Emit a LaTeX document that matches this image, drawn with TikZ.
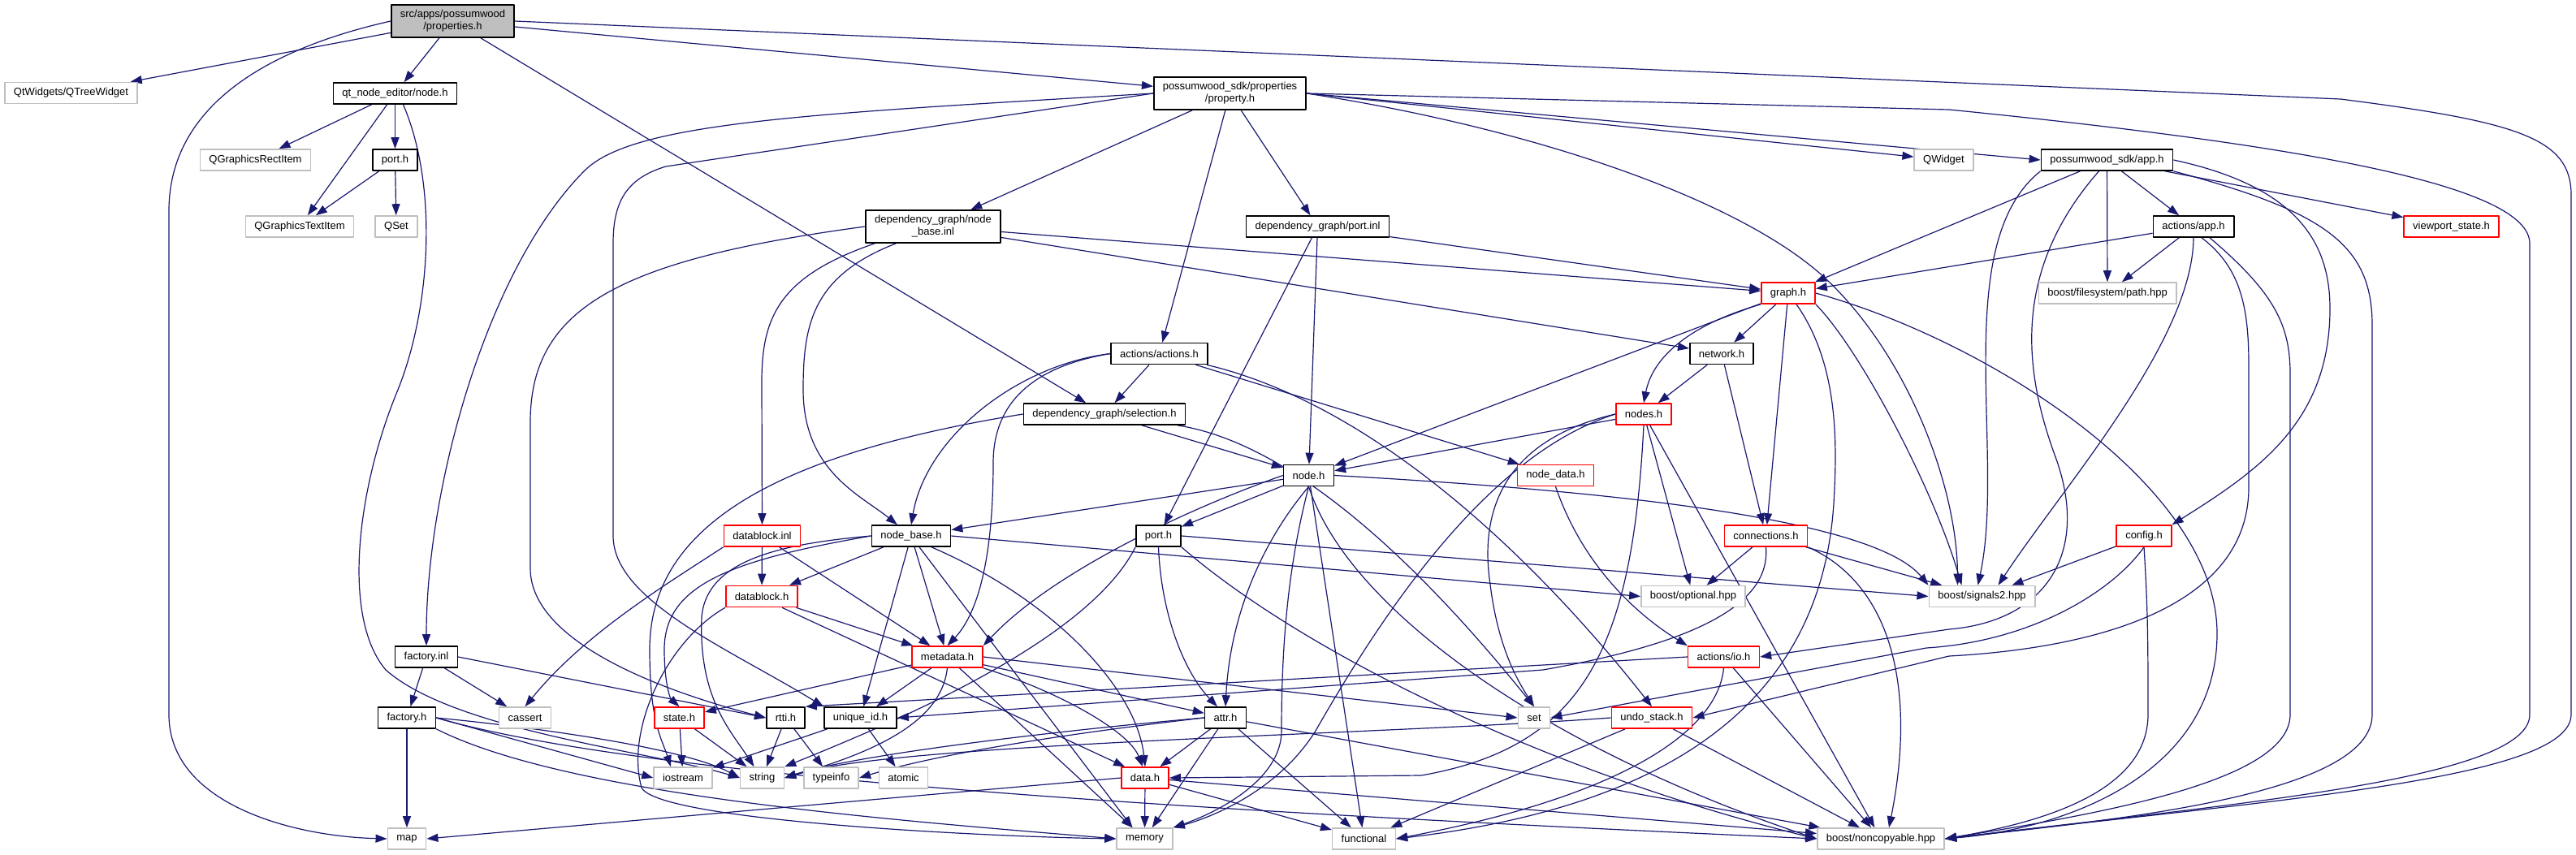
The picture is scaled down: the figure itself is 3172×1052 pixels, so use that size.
\documentclass[tikz,border=0pt]{standalone}
\usepackage{fontspec}
\setmainfont{Liberation Sans}
\usetikzlibrary{arrows.meta,backgrounds}
\definecolor{edgeblue}{HTML}{191970}
\definecolor{extgray}{HTML}{BFBFBF}
\begin{document}
\begin{tikzpicture}[x=1pt, y=-1pt, font=\fontsize{13}{15}\selectfont, line join=round, >={Triangle[length=14pt,width=10pt]},
	hdr/.style={draw=black, line width=1.6pt, fill=white, minimum height=26pt, inner xsep=11pt, inner ysep=2pt},
	sys/.style={hdr, draw=extgray},
	cut/.style={hdr, draw=red},
	twoline/.style={align=center, minimum height=40pt},
	root/.style={hdr, twoline, fill=extgray},
	dep/.style={->, draw=edgeblue, line width=1.2pt}]
	\useasboundingbox (0,0) rectangle (3172,1052);
	\node[root] (props) at (557.5,26) {src/apps/possumwood\\/properties.h};
	\node[sys] (qtree) at (87.5,114.5) {QtWidgets/QTreeWidget};
	\node[hdr] (qtnode) at (486.5,115) {qt\_node\_editor/node.h};
	\node[sys] (qrect) at (314.5,197) {QGraphicsRectItem};
	\node[hdr] (qtport) at (486.5,197) {port.h};
	\node[sys] (qtext) at (369,279) {QGraphicsTextItem};
	\node[sys] (qset) at (488,279) {QSet};
	\node[hdr, twoline] (property) at (1514.5,115) {possumwood\_sdk/properties\\/property.h};
	\node[hdr, twoline] (nbinl) at (1149,279) {dependency\_graph/node\\\_base.inl};
	\node[hdr] (portinl) at (1622.5,279) {dependency\_graph/port.inl};
	\node[hdr] (actions) at (1427.5,435.5) {actions/actions.h};
	\node[hdr] (selection) at (1360,510) {dependency\_graph/selection.h};
	\node[sys] (qwidget) at (2393.5,197) {QWidget};
	\node[cut] (graph) at (2202,361) {graph.h};
	\node[hdr] (network) at (2120,435.5) {network.h};
	\node[cut] (nodes) at (2024,510) {nodes.h};
	\node[hdr] (app) at (2594.5,197) {possumwood\_sdk/app.h};
	\node[hdr] (actapp) at (2701,279) {actions/app.h};
	\node[cut] (viewport) at (3018.5,279) {viewport\_state.h};
	\node[sys] (fspath) at (2595,361) {boost/filesystem/path.hpp};
	\node[hdr] (factinl) at (525,809) {factory.inl};
	\node[hdr] (facth) at (501,884) {factory.h};
	\node[sys] (cassert) at (646.5,884) {cassert};
	\node[sys] (map) at (501,1033) {map};
	\node[cut] (dbinl) at (938.5,660) {datablock.inl};
	\node[hdr] (nodebase) at (1122,660) {node\_base.h};
	\node[hdr] (port) at (1426.5,660) {port.h};
	\node[hdr] (dgnode) at (1611.5,585.5) {node.h};
	\node[cut] (dbh) at (938,734.5) {datablock.h};
	\node[cut] (metadata) at (1166.5,809) {metadata.h};
	\node[cut] (state) at (836.5,884) {state.h};
	\node[hdr] (rtti) at (967.5,884) {rtti.h};
	\node[hdr] (uid) at (1059.5,884) {unique\_id.h};
	\node[hdr] (attr) at (1509,884) {attr.h};
	\node[sys] (iostream) at (841,958) {iostream};
	\node[sys] (string) at (938.5,958) {string};
	\node[sys] (typeinfo) at (1023.5,958) {typeinfo};
	\node[sys] (atomic) at (1112.5,958) {atomic};
	\node[cut] (data) at (1410,958) {data.h};
	\node[sys] (memory) at (1409.5,1033) {memory};
	\node[cut] (nodedata) at (1915.5,585.5) {node\_data.h};
	\node[cut] (conn) at (2174.5,660) {connections.h};
	\node[sys] (optional) at (2085,734.5) {boost/optional.hpp};
	\node[cut] (io) at (2122.5,809) {actions/io.h};
	\node[sys] (set) at (1889,884) {set};
	\node[cut] (undo) at (2034,884) {undo\_stack.h};
	\node[sys] (functional) at (1679.5,1033) {functional};
	\node[sys] (noncopy) at (2316,1033) {boost/noncopyable.hpp};
	\node[sys] (signals) at (2440.5,734.5) {boost/signals2.hpp};
	\node[cut] (config) at (2640,660) {config.h};
	\begin{scope}[on background layer]
	\draw[dep] (props) -- (qtree);
	\draw[dep] (props) -- (qtnode);
	\draw[dep] (props) -- (property);
	\draw[dep] (props) -- (selection);
	\draw[dep] (props.west) .. controls (330,60) and (208,130) .. (208,260) -- (208,880) .. controls (208,990) and (360,1030) .. (map.west);
	\draw[dep] (props.east) -- (2882,122) .. controls (3100,150) and (3166,170) .. (3166,240) -- (3166,880) .. controls (3166,960) and (2800,985) .. (noncopy.east);
	\draw[dep] (qtnode) -- (qrect);
	\draw[dep] (qtnode) -- (qtext);
	\draw[dep] (qtnode) -- (qtport);
	\draw[dep] ([xshift=10pt]qtnode.south) .. controls (540,230) and (530,380) .. (490,480) .. controls (440,600) and (420,760) .. (475,825) .. controls (560,900) and (800,925) .. (string.west);
	\draw[dep] (qtport) -- (qtext);
	\draw[dep] (qtport) -- (qset);
	\draw[dep] (property) -- (nbinl);
	\draw[dep] (property) -- (actions);
	\draw[dep] (property) -- (portinl);
	\draw[dep] (property.east) -- (qwidget);
	\draw[dep] (property.east) -- (app.west);
	\draw[dep] (property.east) .. controls (1900,160) and (2150,250) .. (2250,345) .. controls (2350,440) and (2410,600) .. ([xshift=-30pt]signals.north);
	\draw[dep] (property.west) .. controls (1000,140) and (780,150) .. (720,210) .. controls (600,330) and (525,600) .. (factinl.north);
	\draw[dep] (property.west) -- (820,205) .. controls (770,220) and (755,250) .. (755,300) -- (755,660) .. controls (755,740) and (900,800) .. (uid.north west);
	\draw[dep] (property.east) -- (2400,135) .. controls (2850,180) and (3115,230) .. (3115,300) -- (3115,880) .. controls (3115,960) and (2750,990) .. (noncopy.east);
	\draw[dep] (nbinl) -- (graph);
	\draw[dep] (nbinl) -- (network);
	\draw[dep] (nbinl.west) .. controls (760,320) and (653,380) .. (653,520) -- (653,700) .. controls (653,800) and (850,860) .. (rtti.west);
	\draw[dep] ([xshift=12pt]nbinl.south west) .. controls (960,340) and (938,390) .. (938,470) -- (dbinl);
	\draw[dep] ([xshift=38pt]nbinl.south west) .. controls (1000,340) and (989,400) .. (989,480) .. controls (989,580) and (1060,610) .. (nodebase);
	\draw[dep] (portinl) -- (graph);
	\draw[dep] (portinl) -- (port);
	\draw[dep] (portinl) -- (dgnode);
	\draw[dep] (actions) -- (selection);
	\draw[dep] (actions.west) .. controls (1250,450) and (1140,540) .. (nodebase.north);
	\draw[dep] (actions.west) .. controls (1280,450) and (1223,490) .. (1223,570) .. controls (1223,700) and (1200,760) .. (metadata.north);
	\draw[dep] (actions) -- (nodedata);
	\draw[dep] (actions) .. controls (1700,500) and (1900,700) .. (undo.north);
	\draw[dep] (selection) -- (dgnode);
	\draw[dep] (selection) .. controls (1620,550) and (1800,760) .. (set.north);
	\draw[dep] (selection.west) .. controls (950,560) and (800,650) .. (800,800) .. controls (800,890) and (815,910) .. ([xshift=-15pt]iostream.north);
	\draw[dep] (app) -- (graph);
	\draw[dep] (app.south west) .. controls (2400,300) and (2470,560) .. ([xshift=-5pt]signals.north);
	\draw[dep] ([xshift=-10pt]app.south) .. controls (2480,330) and (2490,450) .. (2530,560) .. controls (2575,680) and (2520,765) .. (2400,775) -- (io.east);
	\draw[dep] (app) -- (fspath);
	\draw[dep] (app) -- (actapp);
	\draw[dep] (app.east) .. controls (2830,230) and (2869,300) .. (2869,380) .. controls (2869,520) and (2780,580) .. (config.north east);
	\draw[dep] (app.south east) .. controls (2860,260) and (2921,300) .. (2921,400) -- (2921,880) .. controls (2921,980) and (2600,1010) .. (noncopy.east);
	\draw[dep] (app) -- (viewport);
	\draw[dep] (actapp) -- (fspath);
	\draw[dep] (actapp) -- (graph);
	\draw[dep] (actapp.south) .. controls (2700,420) and (2540,600) .. ([xshift=20pt]signals.north);
	\draw[dep] ([xshift=10pt]actapp.south) .. controls (2760,330) and (2769,380) .. (2769,450) -- (2769,600) .. controls (2769,760) and (2550,800) .. (2400,808) -- (undo.east);
	\draw[dep] ([xshift=20pt]actapp.south) .. controls (2800,360) and (2820,400) .. (2820,460) -- (2820,880) .. controls (2820,960) and (2600,1000) .. (noncopy.east);
	\draw[dep] (graph) -- (network);
	\draw[dep] (graph.south west) .. controls (2080,400) and (2035,440) .. (nodes.north);
	\draw[dep] (graph) -- (dgnode);
	\draw[dep] (graph) -- (conn);
	\draw[dep] ([xshift=10pt]graph.south) .. controls (2265,450) and (2262,550) .. (2258,620) .. controls (2240,900) and (2000,1000) .. (functional.east);
	\draw[dep] (graph.south east) .. controls (2290,430) and (2380,600) .. ([xshift=-25pt]signals.north);
	\draw[dep] (graph.east) .. controls (2450,420) and (2730,600) .. (2730,780) .. controls (2730,950) and (2550,1020) .. (noncopy.east);
	\draw[dep] (network) -- (nodes);
	\draw[dep] (network) -- (conn);
	\draw[dep] (nodes) -- (dgnode);
	\draw[dep] (nodes.west) .. controls (1860,540) and (1820,620) .. (1835,720) .. controls (1845,800) and (1870,840) .. (set.north);
	\draw[dep] (nodes.west) .. controls (1830,560) and (1700,760) .. (1620,900) .. controls (1570,980) and (1480,1010) .. (memory.north east);
	\draw[dep] (nodes.south) .. controls (2010,800) and (1950,920) .. (1750,955) -- (data.east);
	\draw[dep] (nodes) -- (optional);
	\draw[dep] (nodes) -- (noncopy);
	\draw[dep] (dgnode) -- (nodebase);
	\draw[dep] (dgnode) -- (port);
	\draw[dep] (dgnode.west) .. controls (1480,620) and (1300,700) .. (metadata.north east);
	\draw[dep] (dgnode.south) .. controls (1560,660) and (1515,750) .. (attr.north);
	\draw[dep] (dgnode.south) .. controls (1585,700) and (1578,800) .. (1578,900) .. controls (1578,960) and (1500,1000) .. (memory.north east);
	\draw[dep] (dgnode) -- (functional);
	\draw[dep] (dgnode.south) .. controls (1660,750) and (1900,920) .. (noncopy.west);
	\draw[dep] (dgnode.east) .. controls (1900,600) and (2300,630) .. (signals.north west);
	\draw[dep] (nodedata.south) .. controls (1950,700) and (2020,760) .. (io.north west);
	\draw[dep] (conn) -- (optional);
	\draw[dep] (conn) -- (signals);
	\draw[dep] (conn.south east) .. controls (2330,720) and (2360,850) .. ([xshift=10pt]noncopy.north);
	\draw[dep] (conn.south) .. controls (2180,740) and (2100,790) .. (1900,825) -- (uid.east);
	\draw[dep] (io.west) -- (rtti.north east);
	\draw[dep] (io) -- (noncopy);
	\draw[dep] (io.south) .. controls (2115,900) and (2000,980) .. (functional.east);
	\draw[dep] (undo) -- (functional);
	\draw[dep] (undo) -- (noncopy);
	\draw[dep] (undo.west) .. controls (1700,905) and (1100,915) .. (string.east);
	\draw[dep] (config) -- (signals);
	\draw[dep] (config.south) .. controls (2600,730) and (2500,790) .. (2372,798) -- (set.east);
	\draw[dep] (config.south) .. controls (2645,750) and (2645,800) .. (2645,880) .. controls (2645,980) and (2500,1015) .. (noncopy.east);
	\draw[dep] (port.south) .. controls (1430,760) and (1460,830) .. ([xshift=-10pt]attr.north);
	\draw[dep] (port.south west) .. controls (1340,790) and (1100,890) .. (string.north east);
	\draw[dep] (port.east) -- (signals.west);
	\draw[dep] (port.south east) .. controls (1600,800) and (1900,950) .. (noncopy.west);
	\draw[dep] (nodebase) -- (dbh);
	\draw[dep] (nodebase) -- (metadata);
	\draw[dep] (nodebase) -- (uid);
	\draw[dep] ([xshift=25pt]nodebase.south) .. controls (1300,740) and (1400,850) .. (data.north);
	\draw[dep] ([xshift=10pt]nodebase.south) -- ([xshift=-15pt]memory.north);
	\draw[dep] (nodebase.west) .. controls (960,670) and (870,690) .. (864,760) .. controls (860,860) and (900,900) .. ([xshift=-10pt]string.north);
	\draw[dep] (nodebase.west) .. controls (900,690) and (818,720) .. (818,800) .. controls (818,840) and (825,860) .. (state.north);
	\draw[dep] (nodebase.east) -- (optional.west);
	\draw[dep] (dbinl) -- (dbh);
	\draw[dep] (dbinl) -- (metadata);
	\draw[dep] (dbinl.south west) .. controls (820,720) and (720,780) .. (cassert.north);
	\draw[dep] (dbh) -- (metadata);
	\draw[dep] ([xshift=-20pt]dbh.south east) -- ([xshift=5pt]data.north west);
	\draw[dep] (dbh.south west) .. controls (820,790) and (770,900) .. (790,970) .. controls (810,1010) and (1200,1030) .. (memory.west);
	\draw[dep] (metadata) -- (state);
	\draw[dep] (metadata) -- (uid);
	\draw[dep] (metadata.south) .. controls (1160,880) and (1100,920) .. (string.east);
	\draw[dep] (metadata) -- (attr);
	\draw[dep] (metadata.south east) .. controls (1300,850) and (1390,900) .. ([xshift=-3pt]data.north);
	\draw[dep] (metadata) -- (memory);
	\draw[dep] (metadata.east) -- (set.west);
	\draw[dep] (attr) -- (data);
	\draw[dep] (attr) -- (memory);
	\draw[dep] (attr.west) .. controls (1300,900) and (1050,930) .. (string.east);
	\draw[dep] (attr.west) .. controls (1300,905) and (1150,930) .. (typeinfo.east);
	\draw[dep] (attr) -- (functional);
	\draw[dep] (attr) -- (noncopy);
	\draw[dep] (data) -- (memory);
	\draw[dep] (data.west) -- (map.east);
	\draw[dep] (data) -- (functional);
	\draw[dep] (data) -- (noncopy);
	\draw[dep] (rtti) -- (string);
	\draw[dep] (rtti) -- (typeinfo);
	\draw[dep] (uid) -- (iostream);
	\draw[dep] (uid) -- (atomic);
	\draw[dep] (state) -- (iostream);
	\draw[dep] (state) -- (string);
	\draw[dep] (factinl) -- (facth);
	\draw[dep] (factinl) -- (cassert);
	\draw[dep] (factinl.east) -- (rtti.west);
	\draw[dep] (facth) -- (map);
	\draw[dep] (facth.east) -- (iostream.west);
	\draw[dep] (facth.east) .. controls (700,900) and (850,925) .. (string.west);
	\draw[dep] (facth.south east) .. controls (700,980) and (1100,1010) .. (memory.west);
	\draw[dep] (facth.east) .. controls (800,960) and (1500,1000) .. (noncopy.west);
	\end{scope}
\end{tikzpicture}
\end{document}
